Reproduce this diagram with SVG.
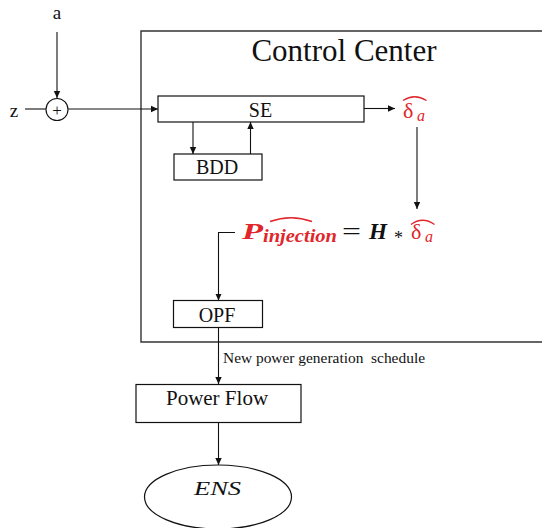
<svg xmlns="http://www.w3.org/2000/svg" width="542" height="528" viewBox="0 0 542 528" font-family="'Liberation Serif', 'Times New Roman', serif">
<style>
.box{fill:#fff;stroke:#111;stroke-width:1.2}
.ln{fill:none;stroke:#111;stroke-width:1.1}
.t{font-family:'Liberation Serif','Times New Roman',serif;fill:#111}
.red{fill:#e0262b}
.m{font-family:'Liberation Serif','Times New Roman',serif;font-style:italic;font-weight:bold}
</style>
<defs>
<marker id="ah" markerWidth="8" markerHeight="8" refX="7" refY="4" orient="auto" markerUnits="userSpaceOnUse">
<path d="M0,0.8 L7,4 L0,7.2 Z" fill="#111"/>
</marker>
</defs>
<rect width="542" height="528" fill="#fff"/>

<g id="control-center">
<path d="M545 31 H141 V342 H545" fill="none" stroke="#333" stroke-width="1.4"/>
<text class="t" x="344" y="61" font-size="31" text-anchor="middle">Control Center</text>
</g>

<g id="connectors">
<line class="ln" x1="57" y1="32" x2="57" y2="98" marker-end="url(#ah)"/>
<line class="ln" x1="25" y1="109" x2="46" y2="109"/>
<line class="ln" x1="68" y1="109" x2="158" y2="109" marker-end="url(#ah)"/>
<line class="ln" x1="193" y1="122" x2="193" y2="154" marker-end="url(#ah)"/>
<line class="ln" x1="250.5" y1="154" x2="250.5" y2="122" marker-end="url(#ah)"/>
<line class="ln" x1="364" y1="108.5" x2="395" y2="108.5" marker-end="url(#ah)"/>
<line class="ln" x1="417" y1="127" x2="417" y2="209" marker-end="url(#ah)"/>
<path class="ln" d="M235 232.5 H218.5 V300.5" marker-end="url(#ah)"/>
<line class="ln" x1="218.5" y1="327" x2="218.5" y2="384" marker-end="url(#ah)"/>
<line class="ln" x1="218.5" y1="422" x2="218.5" y2="465" marker-end="url(#ah)"/>
<text class="t" x="223" y="362.5" font-size="14" textLength="202" lengthAdjust="spacingAndGlyphs" style="white-space:pre">New power generation  schedule</text>
</g>

<g id="input-a">
<text class="t" x="57" y="19" font-size="19" text-anchor="middle">a</text>
</g>
<g id="input-z">
<text class="t" x="14" y="117" font-size="19" text-anchor="middle">z</text>
</g>
<g id="sum">
<circle cx="57" cy="109.5" r="11" fill="#fff" stroke="#111" stroke-width="1.1"/>
<text class="t" x="57" y="115.5" font-size="17" text-anchor="middle">+</text>
</g>

<g id="se">
<rect class="box" x="158" y="96" width="206" height="26"/>
<text class="t" x="260.5" y="116.5" font-size="20" text-anchor="middle">SE</text>
</g>

<g id="bdd">
<rect class="box" x="174" y="154" width="88" height="26"/>
<text class="t" x="217" y="174" font-size="20" text-anchor="middle">BDD</text>
</g>

<g id="delta-hat">
<text class="t red" x="403" y="118" font-size="22">δ</text>
<text class="t red" x="417" y="121" font-size="16" font-style="italic">a</text>
<path d="M403 100.5 Q414.5 93 426.5 100.5" fill="none" stroke="#e0262b" stroke-width="1.3"/>
</g>

<g id="formula">
<text class="m red" x="242" y="238.5" font-size="24" textLength="21" lengthAdjust="spacingAndGlyphs">P</text>
<text class="m red" x="263" y="241.5" font-size="18" textLength="74" lengthAdjust="spacingAndGlyphs">injection</text>
<path d="M270 221.5 Q291 214 312 221.5" fill="none" stroke="#e0262b" stroke-width="1.4"/>
<text class="t" x="342" y="240" font-size="26" textLength="19" lengthAdjust="spacingAndGlyphs">=</text>
<text class="m" x="369" y="238.5" font-size="23" fill="#111" textLength="18" lengthAdjust="spacingAndGlyphs">H</text>
<text class="t" x="394" y="244" font-size="18" fill="#555">*</text>
<text class="t red" x="411" y="239" font-size="22">δ</text>
<text class="t red" x="425" y="242" font-size="16" font-style="italic">a</text>
<path d="M411 224.5 Q422.5 216 434.5 224.5" fill="none" stroke="#e0262b" stroke-width="1.3"/>
</g>

<g id="opf">
<rect class="box" x="173.5" y="300.5" width="89" height="27"/>
<text class="t" x="217" y="322" font-size="20" text-anchor="middle">OPF</text>
</g>

<g id="power-flow">
<rect class="box" x="136" y="384.5" width="165" height="38"/>
<text class="t" x="217" y="405" font-size="21" text-anchor="middle">Power Flow</text>
</g>

<g id="ens">
<ellipse cx="218" cy="497" rx="73.5" ry="32" fill="#fff" stroke="#111" stroke-width="1.2"/>
<text class="t" x="194" y="495" font-size="19" font-style="italic" textLength="47" lengthAdjust="spacingAndGlyphs">ENS</text>
</g>
</svg>
